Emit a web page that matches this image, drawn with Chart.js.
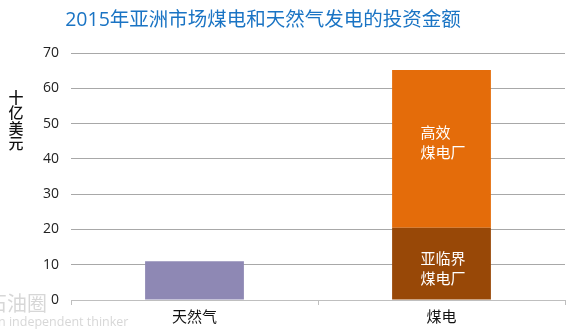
<!DOCTYPE html>
<html>
<head>
<meta charset="utf-8">
<script src="https://cdn.jsdelivr.net/npm/chart.js@4/dist/chart.umd.min.js"></script>
<style>
  html, body { margin: 0; padding: 0; background: #fff; }
  #wrap { width: 570px; height: 335px; position: relative; }
</style>
</head>
<body>
<div id="wrap"><canvas id="grafico"></canvas></div>
<script>
// datos (miles de millones de USD)
const categorias = ['天然气', '煤电'];
const gasNatural = [11, null];
const subcritico = [null, 20.5];
const altaEficiencia = [null, 44.7];
const etiquetasBarra = [['亚临界', '煤电厂'], ['高效', '煤电厂']];
const titulo = '2015年亚洲市场煤电和天然气发电的投资金额';
const tituloEje = ['十', '亿', '美', '元'];

const FUENTE = '"Open Sans", "Noto Sans CJK SC", sans-serif';

// textos fuera del area del grafico
const textosPlugin = {
  id: 'textos',
  afterDraw(chart) {
    const ctx = chart.ctx;
    ctx.save();
    // titulo
    ctx.fillStyle = '#1a74c4';
    ctx.font = '19.5px ' + FUENTE;
    ctx.textAlign = 'center';
    ctx.textBaseline = 'middle';
    ctx.fillText(titulo, 263, 20);
    // titulo eje y, caracteres apilados
    ctx.fillStyle = '#111';
    ctx.font = '500 15px "Noto Sans CJK SC", sans-serif';
    tituloEje.forEach((c, i) => ctx.fillText(c, 16, 97 + i * 15.5));
    // marca de agua
    ctx.fillStyle = 'rgba(175,175,175,0.5)';
    ctx.textAlign = 'left';
    ctx.font = '20px "Noto Sans CJK SC", sans-serif';
    ctx.fillText('石油圈', -13, 303);
    ctx.font = '12.5px "Open Sans", sans-serif';
    ctx.fillText('n independent thinker', -2, 322);
    // etiquetas dentro de la barra de carbon
    ctx.fillStyle = '#fff';
    ctx.font = '15px "Noto Sans CJK SC", sans-serif';
    [1, 2].forEach((di, k) => {
      const bar = chart.getDatasetMeta(di).data[1];
      const lineas = etiquetasBarra[k];
      const centro = (bar.y + bar.base) / 2 + (k === 0 ? 5 : -7);
      lineas.forEach((t, j) => {
        ctx.fillText(t, bar.x - 21, centro + (j - (lineas.length - 1) / 2) * 20);
      });
    });
    ctx.restore();
  }
};

new Chart(document.getElementById('grafico'), {
  type: 'bar',
  data: {
    labels: categorias,
    datasets: [
      { label: '天然气', data: gasNatural, backgroundColor: '#8e88b4' },
      { label: '亚临界煤电厂', data: subcritico, backgroundColor: '#984807' },
      { label: '高效煤电厂', data: altaEficiencia, backgroundColor: '#e46c0a' }
    ]
  },
  plugins: [textosPlugin],
  options: {
    responsive: true,
    maintainAspectRatio: false,
    animation: false,
    layout: { padding: { top: 53, right: 5, left: 0, bottom: 0 } },
    barPercentage: 0.4,
    categoryPercentage: 1,
    plugins: {
      legend: { display: false },
      tooltip: { enabled: false }
    },
    scales: {
      x: {
        stacked: true,
        afterFit(s) { s.height = 35; },
        border: { display: true, color: '#bfbfbf', width: 1 },
        grid: { drawOnChartArea: false, drawTicks: true, tickLength: 5, color: '#bfbfbf', offset: true },
        ticks: { color: '#111', font: { family: FUENTE, size: 15 }, padding: 4 }
      },
      y: {
        stacked: true,
        min: 0,
        max: 70,
        afterFit(s) { s.width = 71; },
        border: { display: false },
        grid: { color: '#a8a8a8', drawTicks: false, tickBorderDash: [1, 2] },
        ticks: { stepSize: 10, color: '#222', padding: 12, font: { family: FUENTE, size: 14 } }
      }
    }
  }
});
</script>
</body>
</html>
